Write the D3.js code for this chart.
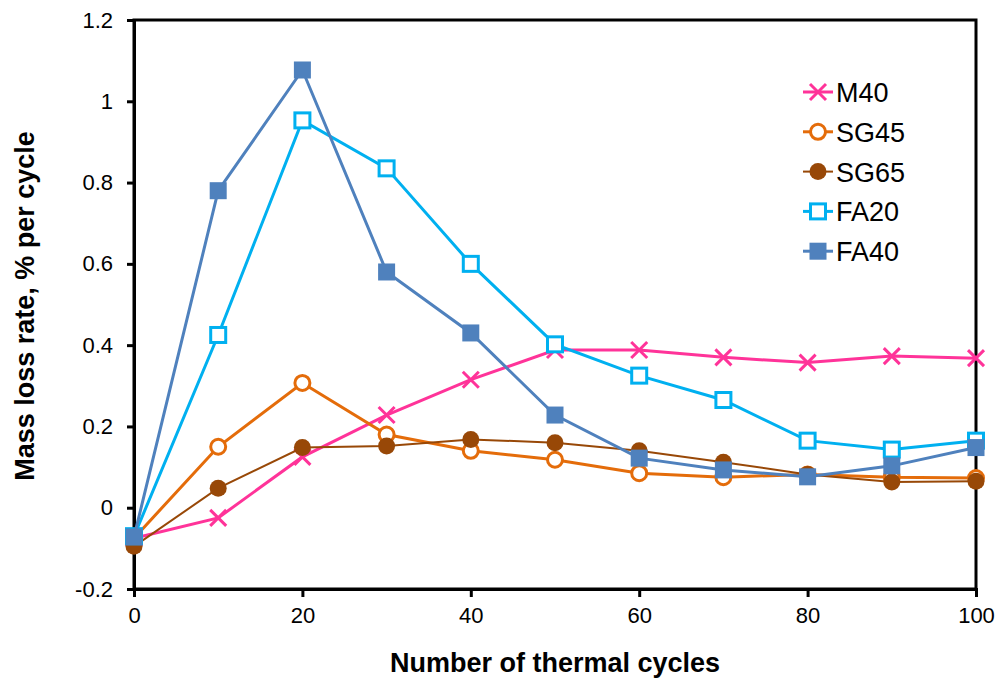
<!DOCTYPE html>
<html><head><meta charset="utf-8">
<script src="https://cdn.jsdelivr.net/npm/d3@7"></script>
<style>body{margin:0;background:#fff;}svg{font-family:"Liberation Sans",Arial,sans-serif;}</style>
</head><body><svg id="c" width="998" height="681"></svg>
<script>
const cycles = [0,10,20,30,40,50,60,70,80,90,100];
const M40  = [-0.075,-0.025,0.125,0.228,0.315,0.388,0.388,0.37,0.357,0.373,0.368];
const SG45 = [-0.075,0.15,0.307,0.18,0.14,0.118,0.085,0.075,0.082,0.075,0.073];
const SG65 = [-0.095,0.048,0.148,0.152,0.168,0.16,0.14,0.112,0.082,0.063,0.065];
const FA20 = [-0.07,0.425,0.953,0.835,0.6,0.402,0.325,0.265,0.165,0.143,0.165];
const FA40 = [-0.072,0.78,1.077,0.58,0.43,0.228,0.122,0.093,0.076,0.103,0.148];
const xTicks = [0,20,40,60,80,100];
const yTicks = [-0.2,0,0.2,0.4,0.6,0.8,1,1.2];
const seriesNames = ["M40","SG45","SG65","FA20","FA40"];

const series = [
  {name:"M40", values:M40, color:"#FF3399", marker:"x", lw:3},
  {name:"SG45", values:SG45, color:"#E46C0A", marker:"circleOpen", lw:3},
  {name:"SG65", values:SG65, color:"#984807", marker:"circle", lw:2},
  {name:"FA20", values:FA20, color:"#00B0F0", marker:"squareOpen", lw:3},
  {name:"FA40", values:FA40, color:"#4F81BD", marker:"square", lw:3}
];

const svg = d3.select("#c");
const L=134, R=976, T=20, B=589;
const x = d3.scaleLinear().domain([0,100]).range([L,R]);
const y = d3.scaleLinear().domain([-0.2,1.2]).range([B,T]);

svg.append("rect").attr("x",L).attr("y",T).attr("width",R-L).attr("height",B-T)
  .attr("fill","none").attr("stroke","#000").attr("stroke-width",3);

const xAxis = svg.append("g").attr("transform",`translate(0,${B})`)
  .call(d3.axisBottom(x).tickValues(xTicks).tickSize(8).tickPadding(10).tickFormat(d3.format("d")));
const yAxis = svg.append("g").attr("transform",`translate(${L},0)`)
  .call(d3.axisLeft(y).tickValues(yTicks).tickSize(7).tickPadding(14).tickFormat(d=>String(+d.toFixed(1))));
[xAxis,yAxis].forEach(a=>{
  a.attr("font-size",22).attr("font-family","'Liberation Sans',Arial,sans-serif");
  a.select(".domain").attr("stroke","#000").attr("stroke-width",3);
  a.selectAll(".tick line").attr("stroke","#000").attr("stroke-width",3);
  a.selectAll(".tick text").attr("fill","#000").style("font-size","22px");
});

svg.append("text").attr("x",555).attr("y",672).attr("text-anchor","middle")
  .style("font-size","27px").style("font-weight","bold").text("Number of thermal cycles");
svg.append("text").attr("transform",`translate(34,306) rotate(-90)`).attr("text-anchor","middle")
  .style("font-size","27px").style("font-weight","bold").text("Mass loss rate, % per cycle");

function drawMarker(g, type, color, cx, cy){
  if(type==="x"){
    const h=8;
    g.append("path").attr("d",`M${cx-h},${cy-h}L${cx+h},${cy+h}M${cx-h},${cy+h}L${cx+h},${cy-h}`)
      .attr("stroke",color).attr("stroke-width",3).attr("fill","none");
  } else if(type==="circleOpen"){
    g.append("circle").attr("cx",cx).attr("cy",cy).attr("r",7.5).attr("fill","#fff").attr("stroke",color).attr("stroke-width",3);
  } else if(type==="circle"){
    g.append("circle").attr("cx",cx).attr("cy",cy).attr("r",8.5).attr("fill",color);
  } else if(type==="squareOpen"){
    g.append("rect").attr("x",cx-7.5).attr("y",cy-7.5).attr("width",15).attr("height",15).attr("fill","#fff").attr("stroke",color).attr("stroke-width",3);
  } else if(type==="square"){
    g.append("rect").attr("x",cx-8.5).attr("y",cy-8.5).attr("width",17).attr("height",17).attr("fill",color);
  }
}

const line = d3.line().x((d,i)=>x(cycles[i])).y(d=>y(d));
series.forEach(s=>{
  const g = svg.append("g");
  g.append("path").datum(s.values).attr("d",line).attr("fill","none").attr("stroke",s.color).attr("stroke-width",s.lw);
  s.values.forEach((v,i)=>drawMarker(g,s.marker,s.color,x(cycles[i]),y(v)));
});

series.forEach((s,i)=>{
  const ly = 92 + i*39.8;
  const g = svg.append("g");
  g.append("line").attr("x1",803).attr("x2",833).attr("y1",ly).attr("y2",ly).attr("stroke",s.color).attr("stroke-width",s.lw);
  drawMarker(g,s.marker,s.color,818,ly);
  g.append("text").attr("x",836).attr("y",ly+10).style("font-size","27px").attr("fill","#000").text(seriesNames[i]);
});
</script></body></html>
